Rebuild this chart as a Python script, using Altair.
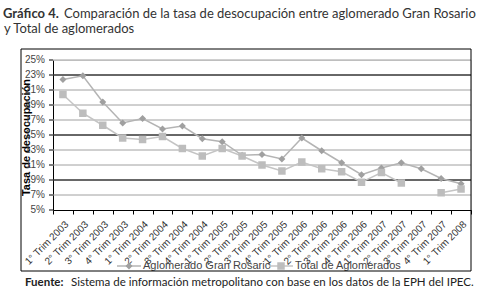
import altair as alt
import pandas as pd

quarters = ["1° Trim 2003", "2° Trim 2003", "3° Trim 2003", "4° Trim 2003",
            "1° Trim 2004", "2° Trim 2004", "3° Trim 2004", "4° Trim 2004",
            "1° Trim 2005", "2° Trim 2005", "3° Trim 2005", "4° Trim 2005",
            "1° Trim 2006", "2° Trim 2006", "3° Trim 2006", "4° Trim 2006",
            "1° Trim 2007", "2° Trim 2007", "3° Trim 2007", "4° Trim 2007",
            "1° Trim 2008"]
rosario = [22.4, 22.9, 19.4, 16.6, 17.2, 15.8, 16.2, 14.5, 14.1, 12.3, 12.4,
           11.8, 14.6, 12.9, 11.3, 9.7, 10.6, 11.3, 10.5, 9.2, 8.5]
total = [20.4, 17.9, 16.3, 14.6, 14.4, 14.8, 13.2, 12.2, 13.2, 12.2, 11.0,
         10.2, 11.4, 10.5, 10.1, 8.7, 10.0, 8.6, None, 7.3, 7.8]
series_names = ["Aglomerado Gran Rosario", "Total de Aglomerados"]
y_ticks = [5, 7, 9, 11, 13, 15, 17, 19, 21, 23, 25]
dark_grid = [9, 15, 23]

rows = []
for q, r, t in zip(quarters, rosario, total):
    rows.append({"q": q, "serie": series_names[0], "v": r})
    rows.append({"q": q, "serie": series_names[1], "v": t})
df = pd.DataFrame(rows)

W, H = 418, 150
FONT = "Liberation Sans"
LINE_COLORS = ["#b4b4b4", "#c4c4c4"]
MARK_COLORS = ["#a0a0a0", "#bdbdbd"]

xenc = alt.X("q:N", sort=quarters, bandPosition=0.5,
             scale=alt.Scale(type="band", paddingInner=0, paddingOuter=0),
             axis=alt.Axis(title=None, labelAngle=-45, labelAlign="right",
                           labelBaseline="top", labelPadding=5, labelFont=FONT,
                           labelFontSize=10, labelColor="#333333", labelOverlap=False,
                           labelBound=False, labelFlush=False, tickBand="extent",
                           tickSize=4, tickColor="black", domainColor="black",
                           grid=False))
yenc = alt.Y("v:Q", scale=alt.Scale(domain=[5, 25], nice=False, zero=False),
             axis=alt.Axis(labels=False, ticks=False, grid=False, domainColor="black",
                           title="Tasa de desocupación", titleFont=FONT,
                           titleFontSize=11, titleFontWeight="bold", titleColor="black",
                           titleX=-27, titleY=77, titleBaseline="middle",
                           titleAlign="center"))

tick_df = pd.DataFrame({"v": y_ticks, "lab": [f"{t}%" for t in y_ticks]})
grid_df = pd.DataFrame({"v": dark_grid})

gray_grid = alt.Chart(tick_df).transform_filter("datum.v > 5").mark_rule(
    color="#a0a0a0", strokeWidth=1).encode(y=yenc, x=alt.value(0), x2=alt.value(W))
dark = alt.Chart(grid_df).mark_rule(color="black", strokeWidth=1).encode(
    y="v:Q", x=alt.value(0), x2=alt.value(W))
yticks = alt.Chart(tick_df).mark_rule(color="black", strokeWidth=1).encode(
    y="v:Q", x=alt.value(-4), x2=alt.value(0))
ylabels = alt.Chart(tick_df).mark_text(
    align="right", baseline="middle", font=FONT, fontSize=10, color="#444444").encode(
    y="v:Q", x=alt.value(-8), text="lab:N")

lines = alt.Chart(df).mark_line(strokeWidth=1.5, invalid="break-paths-filter-domains").encode(
    x=xenc, y=alt.Y("v:Q"),
    stroke=alt.Stroke("serie:N", scale=alt.Scale(domain=series_names, range=LINE_COLORS),
                      legend=None))

fill_scale = alt.Scale(domain=series_names, range=MARK_COLORS)
pts_r = alt.Chart(df).transform_filter("datum.v != null").transform_filter(
    f"datum.serie == '{series_names[0]}'").mark_point(
    shape="diamond", filled=True, size=49, opacity=1).encode(
    x=alt.X("q:N", sort=quarters, bandPosition=0.5), y="v:Q",
    fill=alt.Fill("serie:N", scale=fill_scale, legend=None))
pts_t = alt.Chart(df).transform_filter("datum.v != null").transform_filter(
    f"datum.serie == '{series_names[1]}'").mark_point(
    shape="square", filled=True, size=56, opacity=1).encode(
    x=alt.X("q:N", sort=quarters, bandPosition=0.5), y="v:Q",
    fill=alt.Fill("serie:N", legend=None))

# manual legend (line + marker + label), one entry per series
def legend_entry(name, shape, size, x0, lcolor, mcolor):
    d = alt.Chart(pd.DataFrame({"serie": [name]}))
    rule = d.mark_rule(color=lcolor, strokeWidth=1.5).encode(
        x=alt.value(x0), x2=alt.value(x0 + 24), y=alt.value(206))
    mark = d.mark_point(shape=shape, filled=True, size=size, color=mcolor, opacity=1).encode(
        x=alt.value(x0 + 12), y=alt.value(206))
    lab = d.mark_text(align="left", baseline="middle", font=FONT, fontSize=11,
                      color="#444444").encode(
        text="serie:N", x=alt.value(x0 + 26), y=alt.value(206))
    return [rule, mark, lab]

leg = (legend_entry(series_names[0], "diamond", 49, 64, LINE_COLORS[0], MARK_COLORS[0])
       + legend_entry(series_names[1], "square", 56, 216, LINE_COLORS[1], MARK_COLORS[1]))

def txt(s, x, y, size, weight="normal", color="#333333", font="Lato"):
    return alt.Chart(pd.DataFrame({"t": [s]})).mark_text(
        align="left", baseline="alphabetic", font=font, fontSize=size,
        fontWeight=weight, color=color).encode(
        text="t:N", x=alt.value(x), y=alt.value(y))

title1a = txt("Gráfico 4.", -50, -42, 13, "bold")
title1b = txt("Comparación de la tasa de desocupación entre aglomerado Gran Rosario", 11, -42, 13)
title2 = txt("y Total de aglomerados", -49, -27, 13)
src1 = txt("Fuente:", -28, 226, 11.5, "bold", "#222222")
src2 = txt("Sistema de información metropolitano con base en los datos de la EPH del IPEC.",
           18, 226, 11.5, "normal", "#222222")

frame = alt.Chart(pd.DataFrame({"a": [0]})).mark_rect(
    fillOpacity=0, stroke="black", strokeWidth=1).encode(
    x=alt.value(-32), x2=alt.value(W), y=alt.value(-11), y2=alt.value(211))

chart = alt.layer(gray_grid, dark, yticks, ylabels, lines, pts_r, pts_t, *leg,
                  title1a, title1b, title2, src1, src2, frame).properties(
    width=W, height=H,
    autosize=alt.AutoSizeParams(type="none"),
    padding={"left": 53, "top": 60, "right": 16, "bottom": 82},
).configure_view(stroke=None).configure(background="white")

chart.save("out.html", embed_options={"renderer": "svg", "actions": False})
